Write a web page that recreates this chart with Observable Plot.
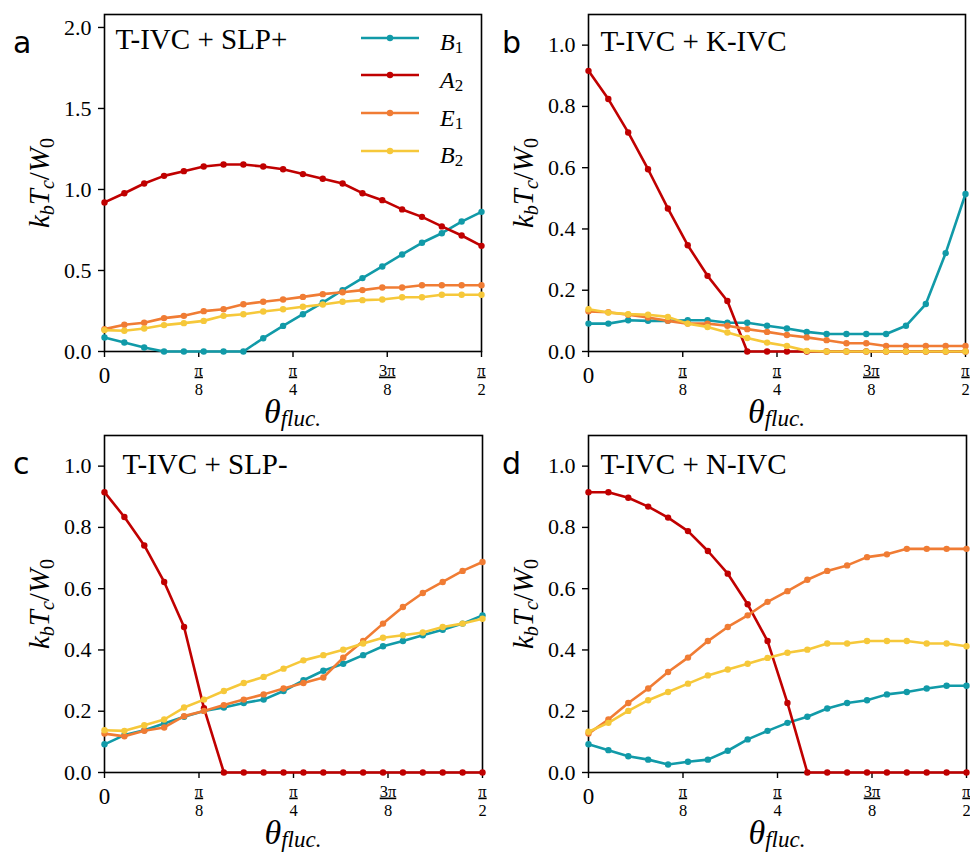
<!DOCTYPE html>
<html><head><meta charset="utf-8">
<script src="https://cdn.jsdelivr.net/npm/d3@7"></script>
<script src="https://cdn.jsdelivr.net/npm/@observablehq/plot@0.6"></script>
<style>
body{margin:0;background:#fff;}
#root{position:relative;width:970px;height:856px;overflow:hidden;background:#fff;}
.panel{position:absolute;}
.panel svg text{font-family:"Liberation Serif",serif;}
.lbl{position:absolute;white-space:nowrap;font-family:"Liberation Serif",serif;color:#000;line-height:1;}
.letter{position:absolute;font-family:"DejaVu Sans",sans-serif;font-size:30px;line-height:1;color:#000;}
</style></head><body><div id="root"></div>
<script>
// sample grid: 20 angles from 0 to pi/2
const theta = Array.from({length: 20}, (_, i) => i * Math.PI / 38);

const seriesKeys = ["B", "A", "E", "B"];
const seriesSubs = ["1", "2", "1", "2"];
const seriesColors = ["#119aa8", "#c00000", "#f07c34", "#f6c83a"];

// panel a: T-IVC + SLP+
const a_B1 = [0.086,0.056,0.025,0,0,0,0,0,0.082,0.158,0.23,0.302,0.379,0.453,0.525,0.599,0.671,0.73,0.802,0.862];
const a_A2 = [0.92,0.977,1.037,1.084,1.113,1.142,1.154,1.154,1.142,1.125,1.095,1.066,1.037,0.977,0.934,0.877,0.831,0.772,0.716,0.652];
const a_E1 = [0.138,0.165,0.177,0.206,0.22,0.249,0.261,0.292,0.307,0.321,0.337,0.354,0.366,0.379,0.395,0.395,0.409,0.409,0.409,0.409];
const a_B2 = [0.132,0.128,0.142,0.163,0.175,0.189,0.22,0.23,0.247,0.261,0.276,0.29,0.307,0.317,0.321,0.335,0.335,0.35,0.35,0.35];

// panel b: T-IVC + K-IVC
const b_B1 = [0.091,0.091,0.102,0.1,0.1,0.102,0.102,0.094,0.094,0.084,0.075,0.064,0.057,0.057,0.057,0.057,0.084,0.155,0.321,0.514];
const b_A2 = [0.916,0.824,0.715,0.595,0.467,0.347,0.247,0.165,0,0,0,0,0,0,0,0,0,0,0,0];
const b_E1 = [0.131,0.128,0.12,0.111,0.1,0.091,0.091,0.084,0.073,0.064,0.054,0.046,0.037,0.027,0.027,0.018,0.018,0.018,0.018,0.018];
const b_B2 = [0.138,0.127,0.122,0.12,0.113,0.091,0.08,0.062,0.044,0.029,0.018,0.002,0,0,0,0,0,0,0,0];

// panel c: T-IVC + SLP-
const c_B1 = [0.092,0.122,0.138,0.16,0.182,0.201,0.212,0.227,0.238,0.266,0.301,0.332,0.355,0.383,0.412,0.429,0.448,0.466,0.486,0.513];
const c_A2 = [0.915,0.834,0.741,0.622,0.475,0.21,0,0,0,0,0,0,0,0,0,0,0,0,0,0];
const c_E1 = [0.127,0.118,0.136,0.147,0.184,0.201,0.22,0.238,0.255,0.274,0.292,0.31,0.375,0.429,0.486,0.54,0.586,0.622,0.658,0.687];
const c_B2 = [0.138,0.136,0.154,0.173,0.212,0.238,0.266,0.292,0.312,0.339,0.366,0.383,0.401,0.421,0.44,0.448,0.457,0.475,0.486,0.502];

// panel d: T-IVC + N-IVC
const d_B1 = [0.092,0.073,0.053,0.042,0.026,0.035,0.042,0.071,0.108,0.136,0.162,0.182,0.209,0.227,0.236,0.255,0.263,0.274,0.283,0.283];
const d_A2 = [0.915,0.915,0.897,0.868,0.832,0.788,0.723,0.649,0.549,0.429,0.227,0,0,0,0,0,0,0,0,0];
const d_E1 = [0.127,0.173,0.227,0.274,0.328,0.375,0.429,0.475,0.513,0.557,0.592,0.629,0.658,0.676,0.703,0.712,0.73,0.73,0.73,0.73];
const d_B2 = [0.133,0.162,0.201,0.236,0.263,0.29,0.317,0.336,0.355,0.374,0.391,0.401,0.421,0.421,0.429,0.429,0.429,0.421,0.421,0.412];

// x tick labels
const xTickVals = [0, Math.PI/8, Math.PI/4, 3*Math.PI/8, Math.PI/2];
const xTickNum = ["", "π", "π", "3π", "π"];
const xTickDen = ["", "8", "4", "8", "2"];
const xTickZero = ["0", "", "", "", ""];

const yTicksA = [0, 0.5, 1.0, 1.5, 2.0];
const yTicksB = [0, 0.2, 0.4, 0.6, 0.8, 1.0];

const FONT = "Liberation Serif";

const panels = [
  {key:"a", left:0, top:0, width:490, ml:104, mr:9, yDomain:[0,2.08], yTicks:yTicksA, title:"T-IVC + SLP+", tdx:11, tdy:14, data:[a_B1,a_A2,a_E1,a_B2]},
  {key:"b", left:490, top:0, width:480, ml:98, mr:5, yDomain:[0,1.1], yTicks:yTicksB, title:"T-IVC + K-IVC", tdx:12, tdy:16, data:[b_B1,b_A2,b_E1,b_B2]},
  {key:"c", left:0, top:421, width:490, ml:104, mr:8, yDomain:[0,1.1], yTicks:yTicksB, title:"T-IVC + SLP-", tdx:18, tdy:18, data:[c_B1,c_A2,c_E1,c_B2]},
  {key:"d", left:490, top:421, width:480, ml:98, mr:4, yDomain:[0,1.1], yTicks:yTicksB, title:"T-IVC + N-IVC", tdx:12, tdy:18, data:[d_B1,d_A2,d_E1,d_B2]}
];

const H = 436, MT = 14, PH = 337;
const root = document.getElementById("root");
const xFrac = xTickVals.map((v, i) => ({v, t: xTickNum[i] ? xTickNum[i] + "\n" + xTickDen[i] : ""})).filter(d => d.t);
const xZero = xTickVals.map((v, i) => ({v, t: xTickZero[i]})).filter(d => d.t);

for (const p of panels) {
  const marks = [
    Plot.frame({stroke: "black", strokeWidth: 1.6}),
    Plot.axisY({ticks: p.yTicks, tickFormat: d3.format(".1f"), tickSize: 6, tickPadding: 7, label: null, fontSize: 22, fontFamily: FONT, strokeWidth: 1.4}),
    Plot.axisX({ticks: xTickVals, tickFormat: () => "", tickSize: 6, label: null, strokeWidth: 1.4})
  ];
  p.data.forEach((arr, k) => {
    const rows = theta.map((t, i) => ({t, v: arr[i]}));
    marks.push(Plot.line(rows, {x: "t", y: "v", stroke: seriesColors[k], strokeWidth: 2.6}));
    marks.push(Plot.dot(rows, {x: "t", y: "v", fill: seriesColors[k], r: 3.2}));
  });
  marks.push(
    Plot.text(xFrac, {x: "v", frameAnchor: "bottom", text: "t", dy: 10, fontSize: 16.5, lineHeight: 1.2, lineAnchor: "top", fontFamily: FONT}),
    Plot.text(xZero, {x: "v", frameAnchor: "bottom", text: "t", dy: 24, fontSize: 23, lineAnchor: "middle", fontFamily: FONT}),
    Plot.text([p.title], {frameAnchor: "top-left", text: d => d, dx: p.tdx, dy: p.tdy, fontSize: 29, lineAnchor: "top", textAnchor: "start", fontFamily: FONT})
  );
  const chart = Plot.plot({
    width: p.width, height: H,
    marginLeft: p.ml, marginRight: p.mr, marginTop: MT, marginBottom: H - MT - PH,
    x: {domain: [0, Math.PI/2]},
    y: {domain: p.yDomain},
    style: {fontFamily: FONT, fontSize: "22px", background: "transparent", overflow: "visible", color: "black"},
    marks
  });
  // drop the empty x-axis label slots (ticks only on x; fraction labels are drawn above)
  chart.querySelectorAll("text").forEach(t => { if (t.textContent.trim() === "") t.remove(); });
  chart.querySelectorAll("tspan").forEach(t => {
    if (t.textContent === "π" || t.textContent === "3π") {
      t.style.textDecoration = "underline";
      t.style.textDecorationThickness = "1.4px";
    }
  });
  const div = document.createElement("div");
  div.className = "panel";
  div.style.left = p.left + "px";
  div.style.top = p.top + "px";
  div.appendChild(chart);
  root.appendChild(div);

  // panel letter
  const L = document.createElement("div");
  L.className = "letter";
  L.textContent = p.key;
  L.style.left = (p.left + (p.key === "a" || p.key === "c" ? 13 : 12)) + "px";
  L.style.top = (p.top + 53 - 25.4) + "px";
  root.appendChild(L);

  // y label
  const plotL = p.left + p.ml, plotR = p.left + p.width - p.mr;
  const yl = document.createElement("div");
  yl.className = "lbl";
  yl.style.fontSize = "29px";
  yl.style.left = (plotL - 65) + "px";
  yl.style.top = (p.top + MT + PH / 2) + "px";
  yl.style.transform = "translate(-50%,-50%) rotate(-90deg)";
  yl.innerHTML = '<i>k</i><span style="font-size:20px;font-style:italic;position:relative;top:5px">b</span><i>T</i><span style="font-size:20px;font-style:italic;position:relative;top:5px">c</span>/<i>W</i><span style="font-size:20px;position:relative;top:5px">0</span>';
  root.appendChild(yl);

  // x label
  const xl = document.createElement("div");
  xl.className = "lbl";
  xl.style.fontSize = "34px";
  const base = p.top + MT + PH + 72;
  xl.style.left = ((plotL + plotR) / 2) + "px";
  xl.style.top = (base - 0.8375 * 34) + "px";
  xl.style.transform = "translateX(-50%)";
  xl.innerHTML = '<i>θ</i><span style="font-size:23px;font-style:italic;position:relative;top:3px">fluc.</span>';
  root.appendChild(xl);
}

// legend (panel a)
const legendRowY = [37.5, 75.3, 113.1, 150.9];
seriesKeys.forEach((k, i) => {
  const sw = document.createElement("div");
  sw.style.position = "absolute";
  sw.style.left = "361px";
  sw.style.top = (legendRowY[i] - 5) + "px";
  sw.innerHTML = `<svg width="58" height="10" style="display:block"><line x1="0" x2="58" y1="5" y2="5" stroke="${seriesColors[i]}" stroke-width="2.6"/><circle cx="29" cy="5" r="3.2" fill="${seriesColors[i]}"/></svg>`;
  root.appendChild(sw);
  const t = document.createElement("div");
  t.className = "lbl";
  t.style.fontSize = "24px";
  t.style.left = "440px";
  t.style.top = (legendRowY[i] + 12.5 - 0.8375 * 24) + "px";
  t.innerHTML = `<i>${k}</i><span style="font-size:17px;position:relative;top:3px">${seriesSubs[i]}</span>`;
  root.appendChild(t);
});
</script>
</body></html>
